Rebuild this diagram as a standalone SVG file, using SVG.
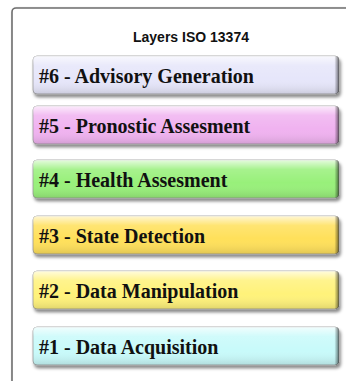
<svg xmlns="http://www.w3.org/2000/svg" width="346" height="381" viewBox="0 0 346 381">
  <defs>
    <filter id="sh" x="-5%" y="-20%" width="115%" height="160%">
      <feDropShadow dx="1.5" dy="3" stdDeviation="1.6" flood-color="#000" flood-opacity="0.45"/>
    </filter>
    <filter id="fsh" x="-5%" y="-5%" width="115%" height="115%">
      <feDropShadow dx="1" dy="1" stdDeviation="1" flood-color="#000" flood-opacity="0.3"/>
    </filter>
    <linearGradient id="gloss" x1="0" y1="0" x2="0" y2="1">
      <stop offset="0" stop-color="#fff" stop-opacity="0.75"/>
      <stop offset="0.25" stop-color="#fff" stop-opacity="0.15"/>
      <stop offset="0.6" stop-color="#fff" stop-opacity="0"/>
      <stop offset="1" stop-color="#000" stop-opacity="0.12"/>
    </linearGradient>
    <linearGradient id="edge" x1="0" y1="0" x2="1" y2="0">
      <stop offset="0" stop-color="#000" stop-opacity="0"/>
      <stop offset="0.985" stop-color="#000" stop-opacity="0"/>
      <stop offset="1" stop-color="#000" stop-opacity="0.55"/>
    </linearGradient>
  </defs>
  <style>
    .lbl { font-family: "Liberation Serif", "Times New Roman", serif; font-weight: bold; font-size: 20px; fill: #111; }
    .title { font-family: "Liberation Sans", Arial, sans-serif; font-weight: bold; font-size: 14px; fill: #111; }
    .box { stroke: #9a9a9a; stroke-width: 0.8; filter: url(#sh); }
    .gl { fill: url(#gloss); }
    .ed { fill: url(#edge); }
  </style>
  <rect x="0" y="0" width="346" height="381" fill="#fff"/>
  <g id="frame">
    <rect x="12" y="8" width="360" height="400" rx="4" fill="#fff" stroke="#6e6e6e" stroke-width="1.6" filter="url(#fsh)"/>
    <text class="title" x="191" y="42" text-anchor="middle">Layers ISO 13374</text>
  </g>
  <g id="layer6">
    <rect class="box" x="33" y="56" width="306" height="38" rx="4" fill="#E6E6FA"/>
    <rect class="gl" x="33" y="56" width="306" height="38" rx="4"/>
    <rect class="ed" x="33" y="56" width="306" height="38" rx="4"/>
    <text class="lbl" x="39" y="83">#6 - Advisory Generation</text>
  </g>
  <g id="layer5">
    <rect class="box" x="33" y="106" width="306" height="38" rx="4" fill="#F0B2F0"/>
    <rect class="gl" x="33" y="106" width="306" height="38" rx="4"/>
    <rect class="ed" x="33" y="106" width="306" height="38" rx="4"/>
    <text class="lbl" x="39" y="133">#5 - Pronostic Assesment</text>
  </g>
  <g id="layer4">
    <rect class="box" x="33" y="160" width="306" height="38" rx="4" fill="#98F07A"/>
    <rect class="gl" x="33" y="160" width="306" height="38" rx="4"/>
    <rect class="ed" x="33" y="160" width="306" height="38" rx="4"/>
    <text class="lbl" x="39" y="187">#4 - Health Assesment</text>
  </g>
  <g id="layer3">
    <rect class="box" x="33" y="216" width="306" height="38" rx="4" fill="#FFE05A"/>
    <rect class="gl" x="33" y="216" width="306" height="38" rx="4"/>
    <rect class="ed" x="33" y="216" width="306" height="38" rx="4"/>
    <text class="lbl" x="39" y="243">#3 - State Detection</text>
  </g>
  <g id="layer2">
    <rect class="box" x="33" y="271" width="306" height="38" rx="4" fill="#FFF27A"/>
    <rect class="gl" x="33" y="271" width="306" height="38" rx="4"/>
    <rect class="ed" x="33" y="271" width="306" height="38" rx="4"/>
    <text class="lbl" x="39" y="298">#2 - Data Manipulation</text>
  </g>
  <g id="layer1">
    <rect class="box" x="33" y="327" width="306" height="38" rx="4" fill="#C8FAFA"/>
    <rect class="gl" x="33" y="327" width="306" height="38" rx="4"/>
    <rect class="ed" x="33" y="327" width="306" height="38" rx="4"/>
    <text class="lbl" x="39" y="354">#1 - Data Acquisition</text>
  </g>
  <g id="connectors"/>
</svg>
